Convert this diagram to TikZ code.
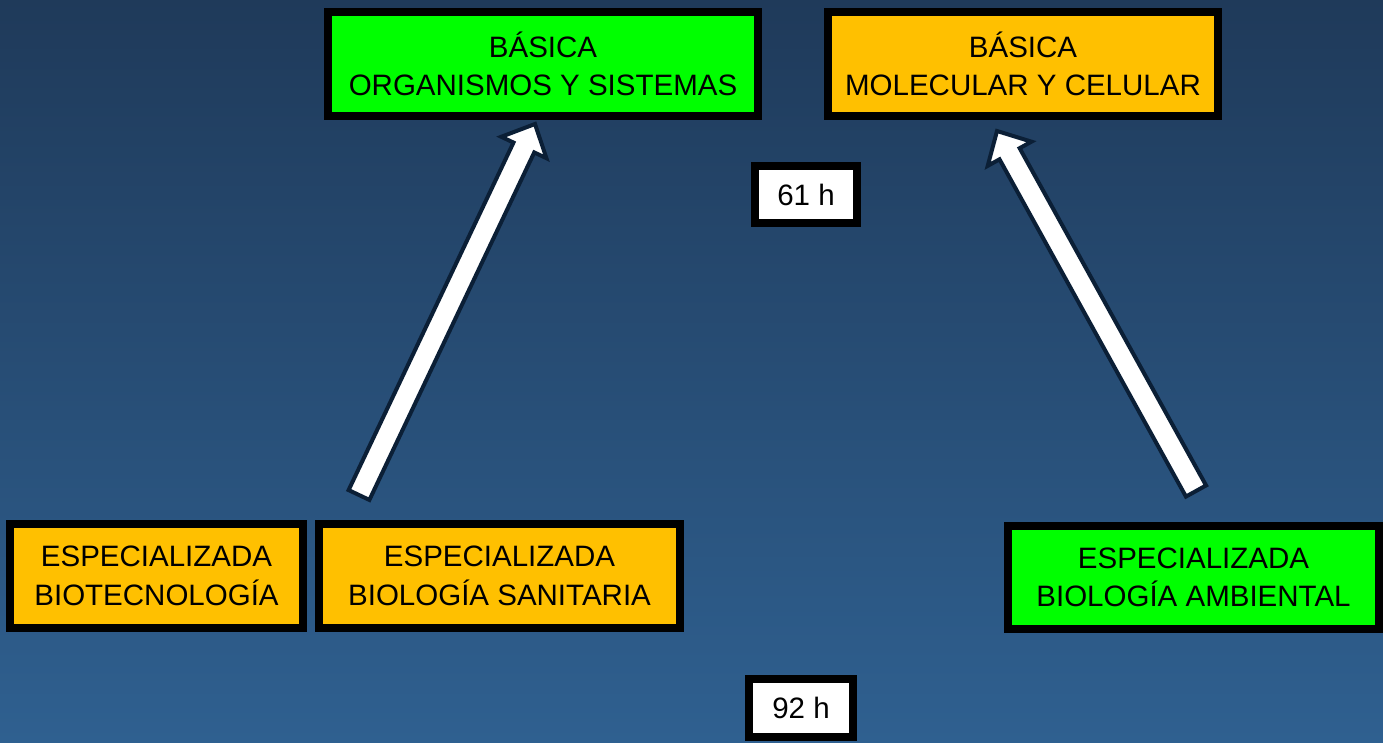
\documentclass[tikz,border=0pt]{standalone}
\usepackage{fontspec}
\setmainfont{Liberation Sans}
\usetikzlibrary{calc}
\definecolor{bgtop}{HTML}{1F3A5A}
\definecolor{bgbot}{HTML}{2F6090}
\definecolor{boxgreen}{HTML}{00FF00}
\definecolor{boxorange}{HTML}{FFC000}
\definecolor{arrowline}{HTML}{0B1F36}
\tikzset{
  box/.style={draw=black, line width=8pt, inner sep=0pt, align=center,
    font=\fontsize{29.5}{38.5}\selectfont, text=black},
  greenbox/.style={box, fill=boxgreen},
  orangebox/.style={box, fill=boxorange},
  hourbox/.style={box, fill=white},
  blockarrow/.style={fill=white, draw=arrowline, line width=4pt, line join=miter}
}
\newcommand{\blockarr}[2]{%
  \coordinate (#1h) at ($(#2)!26pt!(#1)$);
  \path[blockarrow] ($(#1)!11.5pt!90:(#2)$) -- ($(#1h)!11.5pt!-90:(#1)$)
     -- ($(#1h)!25pt!-90:(#1)$) -- (#2) -- ($(#1h)!25pt!90:(#1)$)
     -- ($(#1h)!11.5pt!90:(#1)$) -- ($(#1)!11.5pt!-90:(#2)$) -- cycle;}
\begin{document}
\begin{tikzpicture}[x=1pt,y=-1pt]
\useasboundingbox (0,0) rectangle (1383,742);
\shade[top color=bgtop, bottom color=bgbot] (0,0) rectangle (1383,742);

\node[greenbox, minimum width=430pt, minimum height=104pt] (bos) at (543,64) {BÁSICA\\ORGANISMOS Y SISTEMAS};
\node[orangebox, minimum width=390pt, minimum height=104pt] (bmc) at (1023,64) {BÁSICA\\MOLECULAR Y CELULAR};
\node[hourbox, minimum width=102pt, minimum height=57pt] (h61) at (806,194.5) {61 h};
\node[hourbox, minimum width=104pt, minimum height=58pt] (h92) at (801,708) {92 h};
\node[orangebox, minimum width=293pt, minimum height=104pt] (ebt) at (156.5,576) {ESPECIALIZADA\\BIOTECNOLOGÍA};
\node[orangebox, minimum width=361pt, minimum height=104pt] (ebs) at (499.5,576) {ESPECIALIZADA\\BIOLOGÍA SANITARIA};
\node[greenbox, minimum width=371pt, minimum height=103pt] (eba) at (1193.5,577.5) {ESPECIALIZADA\\BIOLOGÍA AMBIENTAL};

\coordinate (ta) at (359,495);
\coordinate (pa) at (535,124);
\coordinate (tb) at (1196,491);
\coordinate (pb) at (997,131);
\blockarr{ta}{pa}
\blockarr{tb}{pb}
\end{tikzpicture}
\end{document}
